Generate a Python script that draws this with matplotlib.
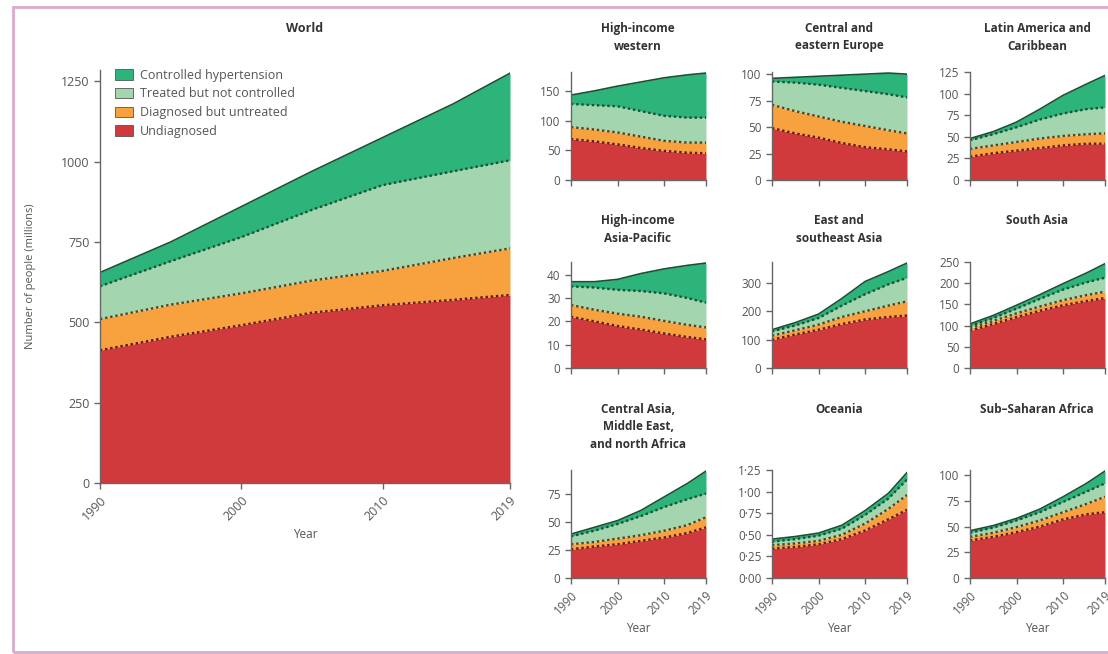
import numpy as np
import matplotlib.pyplot as plt
from matplotlib.patches import Patch, Rectangle

plt.rcParams['font.family'] = ['Open Sans', 'DejaVu Sans']

years = [1990, 1995, 2000, 2005, 2010, 2015, 2019]
layer_names = ["Undiagnosed", "Diagnosed but untreated",
               "Treated but not controlled", "Controlled hypertension"]
colors = ["#d13a3d", "#f7a23e", "#a3d6af", "#2db47a"]
line_colors = ["#5e1a1a", "#5e3e16", "#1a4f33"]

# number of people (millions) in each layer, per region
world_undiag = [413, 455, 491, 530, 553, 570, 585]
world_diag = [97, 100, 99, 100, 107, 130, 145]
world_treated = [102, 135, 175, 220, 267, 270, 274]
world_controlled = [43, 60, 95, 120, 148, 210, 271]

hiw_undiag = [69, 65, 60, 54, 49, 46, 45]
hiw_diag = [20, 20, 20, 19, 17, 17, 18]
hiw_treated = [39, 41, 44, 43, 42, 42, 42]
hiw_controlled = [15, 24, 34, 49, 64, 72, 75]

cee_undiag = [49, 44, 40, 35, 31, 29, 27]
cee_diag = [22, 21, 20, 20, 20, 18, 17]
cee_treated = [22, 27, 30, 32, 33, 34, 34]
cee_controlled = [3, 5, 8, 12, 16, 20, 22]

lac_undiag = [27, 31, 34, 37, 40, 42, 42]
lac_diag = [9, 9, 10, 11, 11, 11, 12]
lac_treated = [10, 13, 17, 22, 26, 29, 30]
lac_controlled = [2, 3, 6, 12, 21, 29, 37]

hiap_undiag = [22, 20, 18, 16.5, 14.8, 13.3, 12.3]
hiap_diag = [5, 5, 5.3, 5.5, 5.4, 5.2, 5.1]
hiap_treated = [8, 9.5, 10.2, 11, 11.8, 11.5, 10.6]
hiap_controlled = [2, 2.5, 4.5, 7.5, 10.5, 14, 17]

esea_undiag = [100, 118, 135, 155, 171, 180, 185]
esea_diag = [14, 15, 18, 25, 29, 40, 50]
esea_treated = [15, 17, 23, 40, 60, 75, 83]
esea_controlled = [6, 10, 14, 25, 45, 45, 52]

sa_undiag = [88, 104, 120, 135, 148, 158, 165]
sa_diag = [6, 7, 9, 10, 12, 14, 15]
sa_treated = [5, 7, 11, 18, 25, 30, 33]
sa_controlled = [5, 6, 8, 10, 14, 22, 33]

camena_undiag = [25.5, 28, 30, 33, 36, 40, 45]
camena_diag = [4.5, 4, 5, 5, 6, 7, 9]
camena_treated = [7, 10, 13, 17, 21, 23, 21]
camena_controlled = [2, 3, 3, 5, 9, 14, 20]

oce_undiag = [0.34, 0.36, 0.39, 0.45, 0.55, 0.68, 0.79]
oce_diag = [0.04, 0.04, 0.04, 0.05, 0.08, 0.12, 0.17]
oce_treated = [0.04, 0.05, 0.06, 0.07, 0.10, 0.12, 0.18]
oce_controlled = [0.03, 0.03, 0.03, 0.04, 0.05, 0.06, 0.08]

ssa_undiag = [36.5, 40, 44.6, 50, 57, 62, 64]
ssa_diag = [3.5, 4, 4.9, 6, 7, 10, 15]
ssa_treated = [4, 5, 6.5, 8, 10, 12, 13]
ssa_controlled = [2, 2, 2, 3, 5, 8, 12]

regions = [
    ("High-income\nwestern", [hiw_undiag, hiw_diag, hiw_treated, hiw_controlled], [0, 50, 100, 150]),
    ("Central and\neastern Europe", [cee_undiag, cee_diag, cee_treated, cee_controlled], [0, 25, 50, 75, 100]),
    ("Latin America and\nCaribbean", [lac_undiag, lac_diag, lac_treated, lac_controlled], [0, 25, 50, 75, 100, 125]),
    ("High-income\nAsia-Pacific", [hiap_undiag, hiap_diag, hiap_treated, hiap_controlled], [0, 10, 20, 30, 40]),
    ("East and\nsoutheast Asia", [esea_undiag, esea_diag, esea_treated, esea_controlled], [0, 100, 200, 300]),
    ("South Asia", [sa_undiag, sa_diag, sa_treated, sa_controlled], [0, 50, 100, 150, 200, 250]),
    ("Central Asia,\nMiddle East,\nand north Africa", [camena_undiag, camena_diag, camena_treated, camena_controlled], [0, 25, 50, 75]),
    ("Oceania", [oce_undiag, oce_diag, oce_treated, oce_controlled], [0, 0.25, 0.5, 0.75, 1.0, 1.25]),
    ("Sub\u2013Saharan Africa", [ssa_undiag, ssa_diag, ssa_treated, ssa_controlled], [0, 25, 50, 75, 100]),
]
xticks = [1990, 2000, 2010, 2019]

W, H = 1108, 654
fig = plt.figure(figsize=(W / 100, H / 100), dpi=100)
fig.patches.append(Rectangle((13 / W, 1 - 652 / H), 1.0, (652 - 7) / H, transform=fig.transFigure,
                             fill=False, edgecolor="#d9aacb", linewidth=2))


def px_axes(left, top, right, bottom):
    return fig.add_axes([left / W, 1 - bottom / H, (right - left) / W, (bottom - top) / H])


def draw_stack(ax, layers, tick_fs):
    cum = np.cumsum(np.array(layers, dtype=float), axis=0)
    base = np.zeros(len(years))
    for i in range(4):
        ax.fill_between(years, base, cum[i], color=colors[i], linewidth=0)
        base = cum[i]
    for i in range(3):
        ax.plot(years, cum[i], color=line_colors[i], linestyle=(0, (1, 1.2)), linewidth=1.7)
    ax.plot(years, cum[3], color="#1d4f34", linewidth=1.2)
    ax.set_xlim(1990, 2019)
    ax.set_ylim(0, cum[3].max() * 1.01)
    for s in ["top", "right"]:
        ax.spines[s].set_visible(False)
    for s in ["left", "bottom"]:
        ax.spines[s].set_color("#666666")
        ax.spines[s].set_linewidth(1.0)
    ax.tick_params(colors="#666666", labelcolor="#555555", labelsize=tick_fs, length=4, width=1)
    ax.set_xticks(xticks)


# World panel
ax = px_axes(100, 70, 510, 483)
draw_stack(ax, [world_undiag, world_diag, world_treated, world_controlled], 9)
ax.set_ylim(0, 1285)
ax.set_yticks([0, 250, 500, 750, 1000, 1250])
ax.set_xticklabels([str(x) for x in xticks], rotation=45, ha="right", rotation_mode="anchor")
ax.set_xlabel("Year", fontsize=8.5, color="#555555", labelpad=4)
ax.set_ylabel("Number of people (millions)", fontsize=8, color="#555555", labelpad=18)
fig.text((100 + 510) / 2 / W, 1 - 22 / H, "World", ha="center", va="top",
         fontsize=9, fontweight="bold", color="#333333")
handles = [Patch(facecolor=colors[i], edgecolor="#555555", linewidth=0.6, label=layer_names[i])
           for i in [3, 2, 1, 0]]
ax.legend(handles=handles, loc="upper left", bbox_to_anchor=(0.01, 1.03), frameon=False,
          fontsize=9, handlelength=1.4, handleheight=0.9, labelspacing=0.45,
          handletextpad=0.6, labelcolor="#555555")

col_left = [571, 772, 970]
row_top = [72, 262, 470]
row_bottom = [180, 368, 578]
title_top = [22, 214, 403]

for k, (name, layers, yt) in enumerate(regions):
    r, c = divmod(k, 3)
    ax = px_axes(col_left[c], row_top[r], col_left[c] + 135, row_bottom[r])
    draw_stack(ax, layers, 8.5)
    ax.set_yticks(yt)
    if name == "Oceania":
        ax.set_yticklabels([f"{v:.2f}".replace(".", "\u00b7") for v in yt])
    if r == 2:
        ax.set_xticklabels([str(x) for x in xticks], rotation=45, ha="right", rotation_mode="anchor")
        ax.set_xlabel("Year", fontsize=8.5, color="#555555", labelpad=4)
    else:
        ax.set_xticklabels([])
    fig.text((col_left[c] + 67) / W, 1 - title_top[r] / H, name, ha="center", va="top",
             fontsize=8.5, fontweight="bold", color="#333333", linespacing=1.45)

fig.savefig("out.png", dpi=100)
